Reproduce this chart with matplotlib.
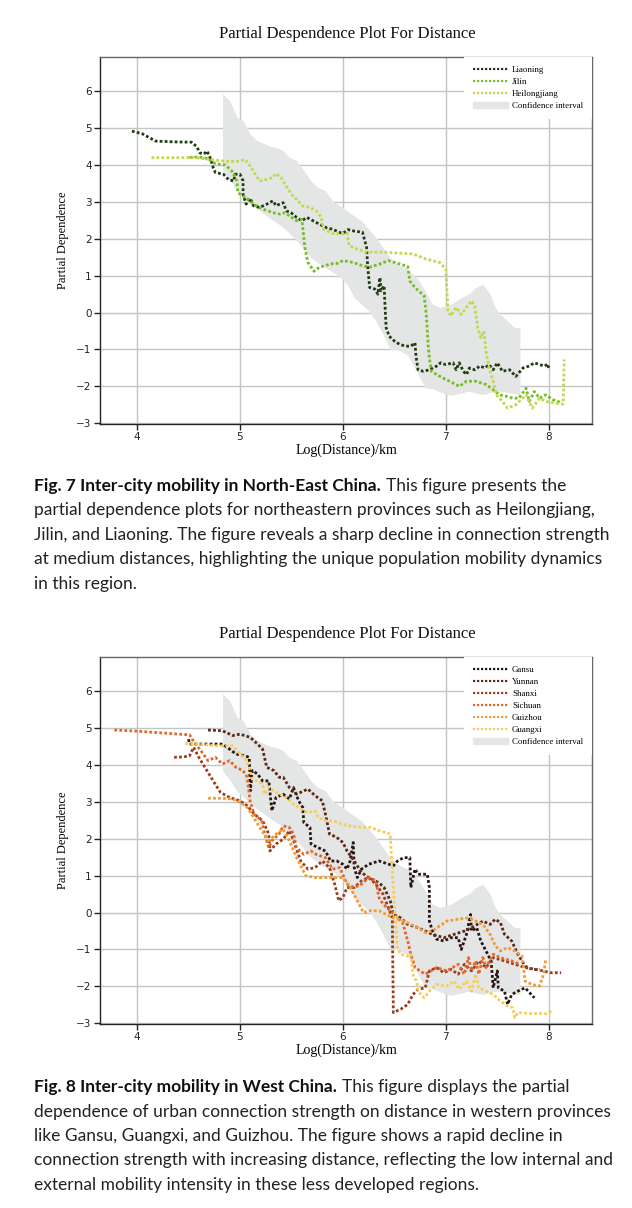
import matplotlib
matplotlib.use("Agg")
import matplotlib.pyplot as plt
from matplotlib.patches import Patch
from matplotlib.lines import Line2D

# -------------------------------
# Data
# -------------------------------
LIAONING = [(3.95, 4.92), (4.05, 4.85), (4.18, 4.65), (4.35, 4.63), (4.53, 4.62), (4.58, 4.5),
            (4.61, 4.33), (4.65, 4.3), (4.68, 4.38), (4.71, 4.2), (4.74, 3.93), (4.76, 3.8),
            (4.84, 3.75), (4.89, 3.6), (4.94, 3.57), (4.95, 3.75), (5.0, 3.75), (5.03, 3.57),
            (5.03, 3.2), (5.06, 2.94), (5.10, 3.1), (5.13, 2.9), (5.19, 2.85), (5.26, 2.94),
            (5.32, 3.03), (5.35, 2.9), (5.42, 2.98), (5.45, 2.76), (5.5, 2.7), (5.55, 2.58),
            (5.6, 2.49), (5.65, 2.58), (5.71, 2.49), (5.77, 2.4), (5.84, 2.3), (5.9, 2.26),
            (5.97, 2.17), (6.0, 2.15), (6.05, 2.25), (6.11, 2.21), (6.19, 2.18), (6.23, 1.77),
            (6.24, 1.27), (6.26, 0.68), (6.31, 0.64), (6.34, 0.5), (6.36, 0.95), (6.37, 0.59),
            (6.4, 0.73), (6.41, 0.14), (6.42, -0.41), (6.45, -0.64), (6.5, -0.77), (6.55, -0.86),
            (6.61, -0.91), (6.66, -0.91), (6.7, -0.82), (6.71, -1.18), (6.73, -1.55), (6.78, -1.59),
            (6.84, -1.55), (6.91, -1.45), (6.95, -1.36), (7.0, -1.41), (7.07, -1.36), (7.1, -1.55),
            (7.13, -1.36), (7.17, -1.59), (7.2, -1.68), (7.23, -1.5), (7.28, -1.55), (7.33, -1.45),
            (7.38, -1.5), (7.42, -1.41), (7.46, -1.55), (7.5, -1.36), (7.55, -1.59), (7.62, -1.55),
            (7.68, -1.73), (7.75, -1.5), (7.81, -1.45), (7.86, -1.36), (7.91, -1.41), (7.96, -1.45),
            (7.99, -1.39), (8.0, -1.53)]

JILIN = [(4.51, 4.21), (4.6, 4.22), (4.68, 4.18), (4.76, 4.04), (4.86, 4.0), (4.92, 3.84),
         (4.97, 3.57), (4.98, 3.25), (5.03, 3.16), (5.08, 3.07), (5.16, 2.89), (5.23, 2.8),
         (5.32, 2.71), (5.39, 2.67), (5.44, 2.71), (5.48, 2.62), (5.55, 2.49), (5.6, 2.53),
         (5.61, 2.31), (5.63, 1.77), (5.66, 1.36), (5.72, 1.12), (5.77, 1.23), (5.83, 1.27),
         (5.87, 1.32), (5.94, 1.33), (6.0, 1.41), (6.1, 1.36), (6.19, 1.27), (6.26, 1.23),
         (6.36, 1.32), (6.44, 1.41), (6.55, 1.32), (6.63, 1.25), (6.65, 0.86), (6.7, 0.68),
         (6.79, 0.45), (6.81, -0.05), (6.83, -0.95), (6.84, -1.23), (6.86, -1.59), (6.91, -1.68),
         (6.97, -1.77), (7.07, -1.91), (7.13, -2.0), (7.2, -1.86), (7.29, -1.86), (7.39, -1.95),
         (7.46, -2.09), (7.52, -2.23), (7.59, -2.27), (7.65, -2.32), (7.71, -2.32), (7.78, -2.05),
         (7.81, -2.41), (7.86, -2.14), (7.91, -2.32), (7.97, -2.23), (8.04, -2.36), (8.12, -2.44)]

HEILONGJIANG = [(4.14, 4.2), (4.3, 4.2), (4.45, 4.2), (4.55, 4.21), (4.71, 4.15), (4.87, 4.1),
                (4.97, 4.1), (5.05, 4.15), (5.1, 3.97), (5.19, 3.57), (5.26, 3.61), (5.32, 3.66),
                (5.35, 3.77), (5.4, 3.66), (5.45, 3.43), (5.5, 3.21), (5.55, 3.07), (5.61, 2.89),
                (5.68, 2.85), (5.74, 2.76), (5.79, 2.58), (5.81, 2.27), (5.9, 2.14), (6.0, 2.14),
                (6.04, 2.16), (6.06, 1.82), (6.13, 1.73), (6.23, 1.64), (6.39, 1.64), (6.55, 1.61),
                (6.68, 1.59), (6.81, 1.45), (6.94, 1.36), (7.0, 1.18), (7.02, 0.05), (7.05, -0.09),
                (7.1, 0.14), (7.15, -0.05), (7.2, 0.14), (7.25, 0.32), (7.28, 0.18), (7.31, -0.41),
                (7.34, -0.68), (7.37, -0.5), (7.39, -1.05), (7.42, -1.5), (7.46, -1.86), (7.49, -2.23),
                (7.55, -2.41), (7.6, -2.59), (7.68, -2.5), (7.78, -2.23), (7.84, -2.59), (7.91, -2.32),
                (7.97, -2.41), (8.05, -2.45), (8.14, -2.48), (8.15, -1.27)]

GANSU = [(4.5, 4.7), (4.51, 4.57), (4.65, 4.57), (4.83, 4.57), (4.9, 4.43), (4.96, 4.3),
         (5.05, 4.25), (5.09, 4.21), (5.1, 3.3), (5.12, 3.85), (5.17, 3.76), (5.22, 3.57),
         (5.28, 3.57), (5.31, 2.76), (5.35, 3.12), (5.42, 3.21), (5.48, 3.08), (5.52, 3.39),
         (5.57, 3.03), (5.61, 2.85), (5.62, 2.44), (5.68, 2.31), (5.69, 1.86), (5.76, 1.76),
         (5.83, 1.67), (5.88, 1.4), (5.94, 1.4), (6.0, 1.31), (6.04, 1.18), (6.07, 1.4),
         (6.1, 1.9), (6.11, 1.22), (6.14, 0.95), (6.18, 1.18), (6.25, 1.31), (6.35, 1.4),
         (6.49, 1.27), (6.53, 1.4), (6.59, 1.49), (6.65, 1.49), (6.66, 0.68), (6.7, 1.18),
         (6.73, 1.04), (6.82, 1.04), (6.84, 0.68), (6.84, -0.23), (6.87, -0.5), (6.91, -0.72),
         (6.98, -0.77), (7.05, -0.68), (7.12, -0.68), (7.15, -1.0), (7.2, -0.59), (7.24, -0.05),
         (7.25, -0.5), (7.3, -0.41), (7.34, -0.77), (7.39, -1.04), (7.44, -1.31), (7.46, -2.04),
         (7.5, -1.58), (7.51, -2.04), (7.57, -2.13), (7.6, -2.49), (7.64, -2.22), (7.7, -2.13),
         (7.77, -2.04), (7.86, -2.31)]

YUNNAN = [(4.69, 4.95), (4.83, 4.93), (4.93, 4.8), (5.0, 4.84), (5.1, 4.75), (5.17, 4.57),
          (5.22, 4.43), (5.26, 3.94), (5.33, 3.85), (5.38, 3.67), (5.42, 3.67), (5.48, 3.39),
          (5.55, 3.21), (5.62, 3.3), (5.66, 3.35), (5.73, 3.17), (5.8, 3.03), (5.83, 2.67),
          (5.87, 2.13), (5.94, 2.04), (6.0, 1.9), (6.04, 1.67), (6.11, 1.4), (6.18, 1.09),
          (6.25, 0.95), (6.35, 0.81), (6.4, 0.68), (6.46, 0.32), (6.49, -0.05), (6.56, -0.14),
          (6.63, -0.32), (6.73, -0.41), (6.8, -0.5), (6.87, -0.59), (6.98, -0.68), (7.08, -0.59),
          (7.18, -0.5), (7.25, -0.41), (7.36, -0.23), (7.43, -0.32), (7.48, -0.18), (7.53, -0.27),
          (7.57, -0.59), (7.64, -0.77), (7.7, -1.13), (7.77, -1.45), (7.84, -1.54), (7.91, -1.54)]

SHANXI = [(4.36, 4.21), (4.45, 4.22), (4.51, 4.25), (4.55, 4.48), (4.6, 4.21), (4.67, 3.89),
          (4.74, 3.57), (4.81, 3.26), (4.9, 3.12), (5.0, 3.03), (5.07, 2.9), (5.14, 2.67),
          (5.22, 2.49), (5.28, 2.13), (5.29, 1.67), (5.35, 1.86), (5.42, 1.99), (5.48, 2.22),
          (5.52, 1.95), (5.59, 1.4), (5.66, 1.18), (5.73, 1.22), (5.8, 1.4), (5.87, 1.22),
          (5.92, 0.77), (5.96, 0.32), (6.0, 0.41), (6.04, 0.68), (6.11, 0.68), (6.18, 0.86),
          (6.25, 0.95), (6.32, 0.77), (6.39, 0.5), (6.44, 0.14), (6.48, -0.14), (6.49, -2.71),
          (6.56, -2.62), (6.63, -2.49), (6.68, -2.22), (6.73, -2.08), (6.8, -2.04), (6.84, -1.58),
          (6.91, -1.49), (6.98, -1.63), (7.05, -1.54), (7.12, -1.67), (7.18, -1.4), (7.25, -1.58),
          (7.32, -1.31), (7.39, -1.49), (7.46, -1.22), (7.57, -1.31), (7.67, -1.4), (7.77, -1.49),
          (7.88, -1.54), (8.02, -1.63), (8.12, -1.63)]

SICHUAN = [(3.78, 4.95), (4.0, 4.92), (4.2, 4.88), (4.4, 4.84), (4.51, 4.82), (4.55, 4.64),
           (4.62, 4.39), (4.69, 4.12), (4.76, 4.21), (4.83, 4.03), (4.9, 4.12), (4.96, 3.94),
           (5.03, 3.85), (5.07, 3.67), (5.1, 2.99), (5.14, 2.67), (5.21, 2.49), (5.24, 2.13),
           (5.28, 1.76), (5.31, 1.95), (5.38, 2.13), (5.42, 2.35), (5.48, 2.31), (5.52, 2.13),
           (5.55, 1.76), (5.62, 1.58), (5.69, 1.67), (5.74, 1.58), (5.83, 1.49), (5.9, 1.18),
           (5.97, 1.22), (6.04, 0.77), (6.11, 0.68), (6.18, 0.77), (6.25, 0.95), (6.32, 0.86),
           (6.35, 0.41), (6.39, 0.23), (6.46, 0.05), (6.53, -0.14), (6.58, -0.27), (6.63, -0.77),
           (6.66, -1.13), (6.7, -1.49), (6.8, -1.67), (6.91, -1.49), (7.01, -1.58), (7.12, -1.4),
           (7.18, -1.67), (7.22, -1.22), (7.25, -1.58), (7.29, -1.31), (7.32, -1.67), (7.36, -1.22),
           (7.39, -1.49), (7.46, -1.13), (7.53, -1.22), (7.64, -1.31), (7.72, -1.4)]

GUIZHOU = [(4.69, 3.1), (4.8, 3.1), (4.93, 3.08), (5.0, 2.99), (5.07, 2.85), (5.14, 2.55),
           (5.21, 2.22), (5.28, 1.95), (5.35, 2.13), (5.42, 2.26), (5.48, 1.95), (5.55, 1.49),
           (5.64, 1.0), (5.73, 0.95), (5.83, 0.95), (5.94, 0.95), (6.0, 0.95), (6.07, 0.68),
           (6.14, 0.32), (6.2, 0.0), (6.25, 0.05), (6.35, 0.05), (6.42, -0.05), (6.49, -0.14),
           (6.59, -0.23), (6.66, -0.32), (6.73, -0.41), (6.8, -0.54), (6.87, -0.5), (6.94, -0.36),
           (7.01, -0.23), (7.12, -0.18), (7.22, -0.14), (7.29, -0.23), (7.36, -0.32), (7.43, -0.59),
           (7.48, -0.9), (7.53, -1.04), (7.6, -0.95), (7.67, -1.04), (7.74, -1.18), (7.77, -1.86),
           (7.84, -1.95), (7.91, -1.99), (7.95, -1.67), (7.97, -1.27)]

GUANGXI = [(4.47, 4.58), (4.6, 4.57), (4.79, 4.52), (4.93, 4.52), (4.96, 4.43), (5.0, 4.3),
           (5.07, 4.12), (5.12, 3.62), (5.17, 3.57), (5.22, 3.48), (5.24, 3.21), (5.28, 3.39),
           (5.35, 3.26), (5.45, 3.12), (5.52, 2.94), (5.59, 2.81), (5.66, 2.71), (5.73, 2.76),
           (5.76, 2.58), (5.83, 2.49), (5.9, 2.49), (5.99, 2.4), (6.07, 2.35), (6.18, 2.31),
           (6.27, 2.31), (6.35, 2.22), (6.42, 2.17), (6.46, 2.13), (6.47, 1.58), (6.49, 0.68),
           (6.51, -0.23), (6.53, -0.95), (6.56, -1.13), (6.63, -1.18), (6.66, -1.13), (6.68, -1.67),
           (6.72, -1.9), (6.73, -2.13), (6.79, -2.31), (6.84, -2.13), (6.91, -1.95), (7.01, -1.99),
           (7.08, -1.86), (7.13, -2.08), (7.2, -1.86), (7.25, -2.13), (7.29, -1.67), (7.32, -2.04),
           (7.39, -2.13), (7.46, -2.22), (7.53, -2.4), (7.6, -2.53), (7.65, -2.58), (7.67, -2.85),
           (7.7, -2.71), (7.84, -2.74), (7.98, -2.74), (8.03, -2.67)]

# confidence band (same band in both panels)
CI_X = [4.83, 4.9, 4.97, 5.03, 5.1, 5.17, 5.28, 5.35, 5.42, 5.48, 5.55, 5.62, 5.69, 5.76,
        5.83, 5.9, 5.97, 6.04, 6.11, 6.18, 6.25, 6.32, 6.39, 6.46, 6.53, 6.63, 6.73, 6.8,
        6.87, 6.94, 7.05, 7.15, 7.22, 7.29, 7.36, 7.43, 7.48, 7.53, 7.6, 7.67, 7.72]
CI_UPPER = [5.93, 5.75, 5.3, 5.2, 4.84, 4.66, 4.52, 4.48, 4.39, 4.21, 4.12, 3.85, 3.57, 3.39,
            3.3, 3.03, 2.9, 2.76, 2.62, 2.49, 2.26, 2.04, 1.76, 1.49, 1.31, 1.18, 0.9, 0.59,
            0.23, 0.14, 0.23, 0.41, 0.5, 0.68, 0.77, 0.5, 0.14, -0.05, -0.23, -0.41, -0.41]
CI_LOWER = [3.85, 3.6, 3.3, 3.15, 2.95, 2.8, 2.58, 2.45, 2.31, 2.15, 1.95, 1.72, 1.49, 1.35,
            1.22, 1.1, 0.98, 0.77, 0.41, 0.23, 0.05, -0.23, -0.59, -1.0, -1.0, -1.15, -1.67, -2.04,
            -2.06, -2.15, -2.24, -2.18, -2.13, -2.18, -2.22, -2.17, -2.13, -2.13, -2.17, -2.2, -2.22]

NE_NAMES = ["Liaoning", "Jilin", "Heilongjiang"]
NE_SERIES = [LIAONING, JILIN, HEILONGJIANG]
NE_COLORS = ["#1f3d12", "#78bd25", "#c0d94c"]

W_NAMES = ["Gansu", "Yunnan", "Shanxi", "Sichuan", "Guizhou", "Guangxi"]
W_SERIES = [GANSU, YUNNAN, SHANXI, SICHUAN, GUIZHOU, GUANGXI]
W_COLORS = ["#2a1711", "#5e2816", "#9c3d1c", "#e2682a", "#f19b32", "#f6cd58"]

TITLE = "Partial Despendence Plot For Distance"

CAP7_BOLD = "Fig. 7 Inter-city mobility in North-East China."
CAP7 = ["This figure presents the",
        "partial dependence plots for northeastern provinces such as Heilongjiang,",
        "Jilin, and Liaoning. The figure reveals a sharp decline in connection strength",
        "at medium distances, highlighting the unique population mobility dynamics",
        "in this region."]
CAP8_BOLD = "Fig. 8 Inter-city mobility in West China."
CAP8 = ["This figure displays the partial",
        "dependence of urban connection strength on distance in western provinces",
        "like Gansu, Guangxi, and Guizhou. The figure shows a rapid decline in",
        "connection strength with increasing distance, reflecting the low internal and",
        "external mobility intensity in these less developed regions."]

# -------------------------------
# Figure
# -------------------------------
W, H = 632, 1208
fig = plt.figure(figsize=(W / 100, H / 100), dpi=100)
SERIF = "Liberation Serif"
CAPFONT = "Lato"
CI_COLOR = "#e4e5e5"


def pdp_panel(top_px, names, series, colors):
    ax = fig.add_axes([100 / W, 1 - (top_px + 367) / H, 492 / W, 367 / H])
    ax.set_xlim(3.64, 8.42)
    ax.set_ylim(-3.02, 6.93)
    ax.set_xticks([4, 5, 6, 7, 8])
    ax.set_yticks(range(-3, 7))
    ax.yaxis.set_major_formatter(matplotlib.ticker.FuncFormatter(
        lambda v, p: f"{int(v)}".replace("-", "\u2212")))
    ax.grid(True, color="#c4c4c4", lw=1.0)
    ax.set_axisbelow(True)
    ax.fill_between(CI_X, CI_LOWER, CI_UPPER, color=CI_COLOR, lw=0, zorder=1)
    handles = []
    for nm, pts, c in zip(names, series, colors):
        xs = [p[0] for p in pts]
        ys = [p[1] for p in pts]
        ax.plot(xs, ys, ls=(0, (1, 0.8)), lw=2.0, color=c, zorder=3)
        handles.append(Line2D([], [], ls=(0, (1, 0.8)), lw=1.6, color=c, label=nm))
    handles.append(Patch(color=CI_COLOR, label="Confidence interval"))
    leg = ax.legend(handles=handles, loc="upper right", prop={"family": SERIF, "size": 6.4},
                    frameon=True, facecolor="white", edgecolor="none", framealpha=1,
                    borderaxespad=0.0, borderpad=1.0, labelspacing=0.42,
                    handlelength=4.0, handletextpad=0.4, fancybox=False)
    leg.set_zorder(5)
    for s in ["left", "bottom"]:
        ax.spines[s].set_color("#222222")
        ax.spines[s].set_linewidth(1.0)
    for s in ["top", "right"]:
        ax.spines[s].set_color("#666666")
        ax.spines[s].set_linewidth(1.0)
    ax.tick_params(direction="out", length=4, width=1, labelsize=7.5, color="#222222",
                   labelcolor="#222222", pad=2)
    ax.set_xlabel("Log(Distance)/km", family=SERIF, fontsize=10)
    ax.xaxis.set_label_coords(0.5, -26 / 367)
    ax.xaxis.label.set_va("center")
    ax.set_ylabel("Partial Dependence", family=SERIF, fontsize=9)
    ax.yaxis.set_label_coords(-37 / 492, 0.5)
    ax.yaxis.label.set_va("center")
    fig.text(347 / W, 1 - (top_px - 23) / H, TITLE, family=SERIF, fontsize=12,
             ha="center", va="center", color="#111111")
    return ax


ax1 = pdp_panel(57, NE_NAMES, NE_SERIES, NE_COLORS)
ax2 = pdp_panel(657, W_NAMES, W_SERIES, W_COLORS)

renderer = fig.canvas.get_renderer()
CAP_SIZE = 12.5


def caption(y0, bold, lines):
    x0 = 34 / W
    step = 24.5
    t = fig.text(x0, 1 - y0 / H, bold, family=CAPFONT, fontweight="bold", fontsize=CAP_SIZE,
                 va="center", ha="left", color="#111111")
    bb = t.get_window_extent(renderer=renderer)
    fig.text(bb.x1 / W + 5 / W, 1 - y0 / H, lines[0], family=CAPFONT, fontsize=CAP_SIZE,
             va="center", ha="left", color="#222222")
    for i, ln in enumerate(lines[1:]):
        fig.text(x0, 1 - (y0 + step * (i + 1)) / H, ln, family=CAPFONT, fontsize=CAP_SIZE,
                 va="center", ha="left", color="#222222")


caption(486, CAP7_BOLD, CAP7)
caption(1087, CAP8_BOLD, CAP8)

fig.savefig("out.png", dpi=100, facecolor="white")
